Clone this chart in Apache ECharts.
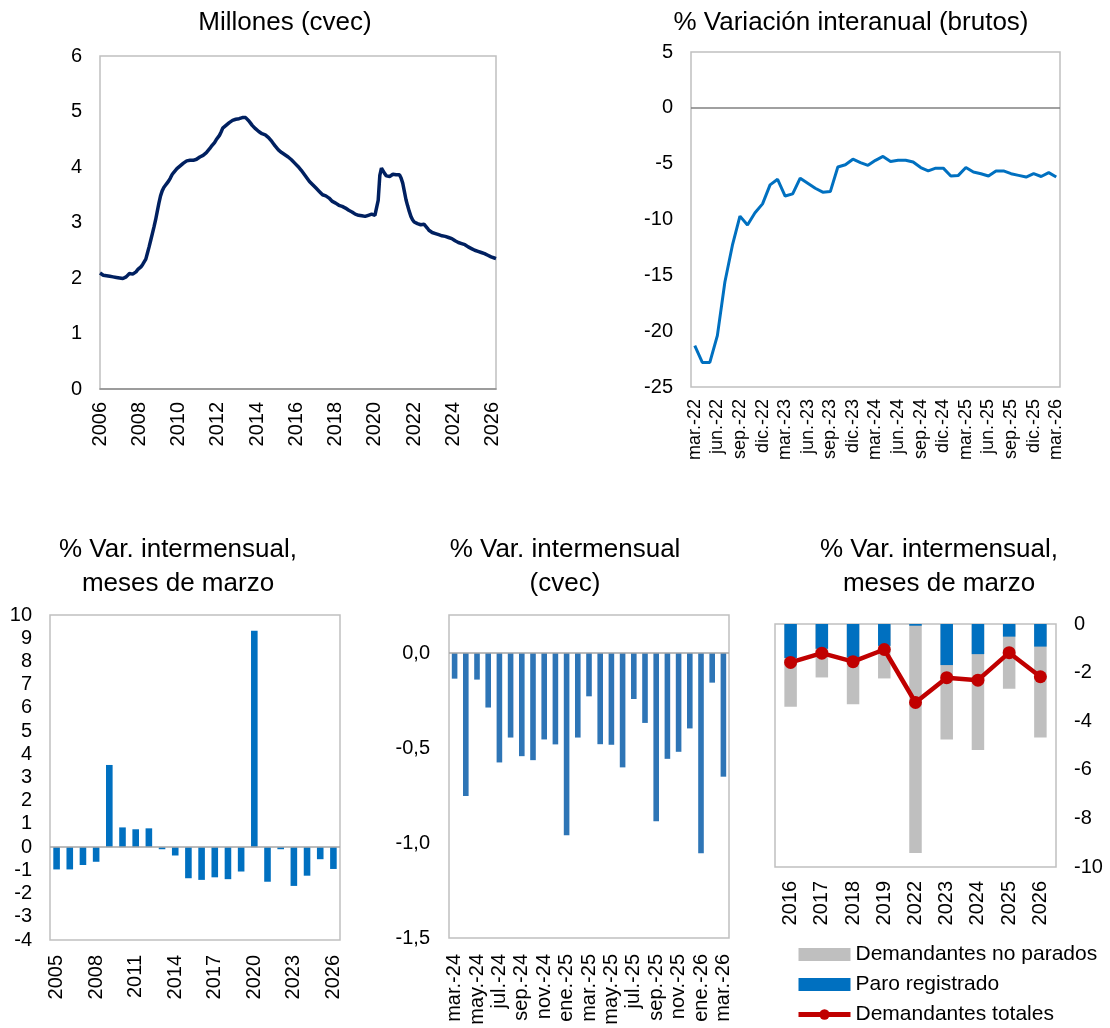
<!DOCTYPE html>
<html>
<head>
<meta charset="utf-8">
<script src="https://cdn.jsdelivr.net/npm/echarts@6/dist/echarts.min.js"></script>
<style>
html,body{margin:0;padding:0;background:#fff;}
#chart{width:1110px;height:1028px;}
</style>
</head>
<body>
<div id="chart"></div>
<script>
// ---------- Panel 1: Millones (cvec), monthly Jan-2006 .. Mar-2026 ----------
const p1StartYear = 2006;
const p1Values = [
  2.09,2.07,2.05,2.04,2.04,2.03,2.03,2.02,2.02,2.01,2.01,2.00, // 2006
  2.00,1.99,1.99,2.00,2.02,2.05,2.08,2.08,2.07,2.08,2.11,2.15, // 2007
  2.17,2.20,2.24,2.29,2.34,2.45,2.56,2.68,2.80,2.92,3.05,3.20, // 2008
  3.35,3.48,3.57,3.63,3.67,3.71,3.75,3.80,3.86,3.90,3.93,3.97, // 2009
  3.98,4.02,4.05,4.07,4.09,4.11,4.10,4.12,4.11,4.12,4.13,4.14, // 2010
  4.16,4.18,4.19,4.21,4.23,4.26,4.28,4.33,4.37,4.40,4.44,4.49, // 2011
  4.52,4.57,4.63,4.70,4.72,4.75,4.77,4.80,4.82,4.84,4.85,4.86, // 2012
  4.87,4.87,4.88,4.89,4.90,4.89,4.86,4.83,4.79,4.75,4.72,4.69, // 2013
  4.66,4.64,4.62,4.60,4.59,4.58,4.56,4.53,4.50,4.46,4.42,4.38, // 2014
  4.35,4.31,4.28,4.26,4.24,4.22,4.20,4.18,4.16,4.13,4.10,4.07, // 2015
  4.04,4.01,3.98,3.94,3.90,3.86,3.82,3.78,3.74,3.71,3.68,3.65, // 2016
  3.62,3.59,3.56,3.53,3.50,3.49,3.48,3.46,3.44,3.41,3.38,3.36, // 2017
  3.35,3.33,3.31,3.30,3.29,3.28,3.26,3.24,3.22,3.20,3.19,3.17, // 2018
  3.15,3.14,3.13,3.13,3.12,3.12,3.11,3.12,3.13,3.14,3.15,3.14, // 2019
  3.13,3.11,3.40,3.85,3.98,3.93,3.88,3.84,3.82,3.83,3.86,3.87, // 2020
  3.87,3.86,3.86,3.86,3.80,3.71,3.56,3.41,3.30,3.20,3.11,3.05, // 2021
  3.01,3.00,2.98,2.96,2.96,2.97,2.97,2.96,2.90,2.86,2.83,2.82, // 2022
  2.81,2.80,2.79,2.78,2.77,2.76,2.76,2.75,2.74,2.73,2.72,2.71, // 2023
  2.69,2.67,2.65,2.64,2.63,2.62,2.61,2.60,2.58,2.56,2.55,2.53, // 2024
  2.52,2.50,2.49,2.48,2.47,2.46,2.45,2.44,2.42,2.41,2.40,2.38, // 2025
  2.37,2.36,2.35                                              // 2026
];
// ---------- Panel 2: % Variación interanual (brutos) ----------
const p2Cats = ['mar.-22','abr.-22','may.-22','jun.-22','jul.-22','ago.-22','sep.-22','oct.-22','nov.-22','dic.-22',
  'ene.-23','feb.-23','mar.-23','abr.-23','may.-23','jun.-23','jul.-23','ago.-23','sep.-23','oct.-23','nov.-23','dic.-23',
  'ene.-24','feb.-24','mar.-24','abr.-24','may.-24','jun.-24','jul.-24','ago.-24','sep.-24','oct.-24','nov.-24','dic.-24',
  'ene.-25','feb.-25','mar.-25','abr.-25','may.-25','jun.-25','jul.-25','ago.-25','sep.-25','oct.-25','nov.-25','dic.-25',
  'ene.-26','feb.-26','mar.-26'];
const p2Values = [-21.3,-22.8,-22.8,-20.4,-15.6,-12.3,-9.7,-10.5,-9.4,-8.6,
  -6.9,-6.4,-7.9,-7.7,-6.3,-6.75,-7.2,-7.55,-7.5,-5.3,-5.1,-4.6,
  -4.9,-5.15,-4.7,-4.35,-4.8,-4.7,-4.7,-4.85,-5.35,-5.65,-5.4,-5.4,
  -6.1,-6.05,-5.35,-5.75,-5.9,-6.1,-5.65,-5.65,-5.9,-6.05,-6.2,-5.9,
  -6.15,-5.8,-6.2];
// ---------- Panel 3: % Var. intermensual, meses de marzo ----------
const p3Cats = ['2005','2006','2007','2008','2009','2010','2011','2012','2013','2014','2015',
  '2016','2017','2018','2019','2020','2021','2022','2023','2024','2025','2026'];
const p3Values = [-0.96,-0.96,-0.77,-0.63,3.54,0.85,0.77,0.81,-0.09,-0.36,-1.34,
  -1.41,-1.30,-1.38,-1.05,9.32,-1.49,-0.09,-1.67,-1.23,-0.52,-0.94];
// ---------- Panel 4: % Var. intermensual (cvec) ----------
const p4Cats = ['mar.-24','abr.-24','may.-24','jun.-24','jul.-24','ago.-24','sep.-24','oct.-24','nov.-24','dic.-24',
  'ene.-25','feb.-25','mar.-25','abr.-25','may.-25','jun.-25','jul.-25','ago.-25','sep.-25','oct.-25','nov.-25','dic.-25',
  'ene.-26','feb.-26','mar.-26'];
const p4Values = [-0.135,-0.753,-0.140,-0.287,-0.576,-0.445,-0.543,-0.564,-0.455,-0.481,
  -0.959,-0.445,-0.228,-0.480,-0.483,-0.602,-0.242,-0.368,-0.886,-0.557,-0.520,-0.397,
  -1.054,-0.156,-0.651];
// ---------- Panel 5: % Var. intermensual, meses de marzo (componentes) ----------
const p5Cats = ['2016','2017','2018','2019','2022','2023','2024','2025','2026'];
const p5NoParados = [-3.41,-2.20,-3.30,-2.24,-9.42,-4.75,-5.19,-2.66,-4.67];
const p5Paro = [-1.40,-1.02,-1.38,-0.90,-0.07,-1.69,-1.24,-0.52,-0.93];
const p5Totales = [-1.58,-1.20,-1.55,-1.05,-3.23,-2.21,-2.31,-1.18,-2.17];

// ---------- build ----------
const p1Cats = [];
for (let i = 0; i < p1Values.length; i++) {
  const y = p1StartYear + Math.floor(i / 12);
  const m = (i % 12) + 1;
  p1Cats.push(y + '-' + (m < 10 ? '0' + m : m));
}

const FONT = '"Liberation Sans", Arial, sans-serif';
const txt = {color: '#000', fontFamily: FONT, fontSize: 20};
const border = {show: true, borderColor: '#C0C0C0', borderWidth: 1.5, backgroundColor: 'transparent'};
const zeroLine = (c) => ({silent: true, symbol: 'none', label: {show: false},
  lineStyle: {color: c || '#808080', width: 1.5, type: 'solid'}, data: [{yAxis: 0}]});

const titleStyle = {color: '#000', fontFamily: FONT, fontSize: 26, fontWeight: 'normal', lineHeight: 34};

const option = {
  animation: false,
  backgroundColor: '#fff',
  textStyle: {fontFamily: FONT},
  title: [
    {text: 'Millones (cvec)', left: 280, top: 1, textAlign: 'center', textStyle: titleStyle},
    {text: '% Variación interanual (brutos)', left: 846, top: 1, textAlign: 'center', textStyle: titleStyle},
    {text: '% Var. intermensual,\nmeses de marzo', left: 173, top: 528, textAlign: 'center', textStyle: titleStyle},
    {text: '% Var. intermensual\n(cvec)', left: 560, top: 528, textAlign: 'center', textStyle: titleStyle},
    {text: '% Var. intermensual,\nmeses de marzo', left: 934, top: 528, textAlign: 'center', textStyle: titleStyle}
  ],
  legend: {
    orient: 'vertical', left: 796, top: 944, padding: 0, itemWidth: 52, itemHeight: 13, itemGap: 9,
    textStyle: {color: '#000', fontFamily: FONT, fontSize: 21},
    data: [
      {name: 'Demandantes no parados', icon: 'rect'},
      {name: 'Paro registrado', icon: 'rect'},
      {name: 'Demandantes totales', lineStyle: {width: 5, color: '#C00000'}}
    ]
  },
  grid: [
    Object.assign({left: 100, top: 56, width: 396, height: 333}, border),
    Object.assign({left: 691, top: 52, width: 369, height: 335}, border),
    Object.assign({left: 50, top: 615, width: 290, height: 325}, border),
    Object.assign({left: 449, top: 615, width: 280, height: 323}, border),
    Object.assign({left: 775, top: 624, width: 281, height: 243}, border)
  ],
  xAxis: [
    {gridIndex: 0, type: 'category', data: p1Cats, boundaryGap: false,
      axisLine: {show: true, onZero: false, lineStyle: {color: '#8C8C8C', width: 1.5}}, axisTick: {show: false},
      axisLabel: Object.assign({rotate: 90, margin: 13, interval: (i) => i % 24 === 0,
        formatter: (v) => v.slice(0, 4)}, txt)},
    {gridIndex: 1, type: 'category', data: p2Cats, boundaryGap: true,
      axisLine: {show: false, onZero: false}, axisTick: {show: false},
      axisLabel: Object.assign({}, txt, {rotate: 90, margin: 12, interval: 2, fontSize: 18})},
    {gridIndex: 2, type: 'category', data: p3Cats, boundaryGap: true,
      axisLine: {show: false, onZero: false}, axisTick: {show: false},
      axisLabel: Object.assign({rotate: 90, margin: 15, interval: 2}, txt)},
    {gridIndex: 3, type: 'category', data: p4Cats, boundaryGap: true,
      axisLine: {show: false, onZero: false}, axisTick: {show: false},
      axisLabel: Object.assign({rotate: 90, margin: 16, interval: 1}, txt)},
    {gridIndex: 4, type: 'category', data: p5Cats, boundaryGap: true,
      axisLine: {show: false, onZero: false}, axisTick: {show: false},
      axisLabel: Object.assign({rotate: 90, margin: 14, interval: 0}, txt)}
  ],
  yAxis: [
    {gridIndex: 0, type: 'value', min: 0, max: 6, interval: 1, splitLine: {show: false},
      axisLine: {show: false}, axisTick: {show: false}, axisLabel: Object.assign({margin: 18}, txt)},
    {gridIndex: 1, type: 'value', min: -25, max: 5, interval: 5, splitLine: {show: false},
      axisLine: {show: false}, axisTick: {show: false}, axisLabel: Object.assign({margin: 18}, txt)},
    {gridIndex: 2, type: 'value', min: -4, max: 10, interval: 1, splitLine: {show: false},
      axisLine: {show: false}, axisTick: {show: false}, axisLabel: Object.assign({margin: 18}, txt)},
    {gridIndex: 3, type: 'value', min: -1.5, max: 0.2, interval: 0.5, splitLine: {show: false},
      axisLine: {show: false}, axisTick: {show: false},
      axisLabel: Object.assign({margin: 19, showMaxLabel: false,
        formatter: (v) => v.toFixed(1).replace('.', ',')}, txt)},
    {gridIndex: 4, type: 'value', position: 'right', min: -10, max: 0, interval: 2, splitLine: {show: false},
      axisLine: {show: false}, axisTick: {show: false}, axisLabel: Object.assign({margin: 18}, txt)}
  ],
  series: [
    {type: 'line', xAxisIndex: 0, yAxisIndex: 0, data: p1Values, showSymbol: false, symbol: 'none',
      lineStyle: {color: '#002060', width: 3.5}, z: 3},
    {type: 'line', xAxisIndex: 1, yAxisIndex: 1, data: p2Values, showSymbol: false, symbol: 'none',
      lineStyle: {color: '#0070C0', width: 3}, markLine: zeroLine('#808080'), z: 3},
    {type: 'bar', xAxisIndex: 2, yAxisIndex: 2, data: p3Values, barWidth: '50%',
      itemStyle: {color: '#0070C0'}, markLine: zeroLine('#A6A6A6')},
    {type: 'bar', xAxisIndex: 3, yAxisIndex: 3, data: p4Values, barWidth: '50%',
      itemStyle: {color: '#2E75B6'}, markLine: zeroLine('#A6A6A6')},
    {name: 'Demandantes no parados', type: 'bar', xAxisIndex: 4, yAxisIndex: 4, data: p5NoParados,
      barWidth: '40%', barGap: '-100%', itemStyle: {color: '#BFBFBF'}},
    {name: 'Paro registrado', type: 'bar', xAxisIndex: 4, yAxisIndex: 4, data: p5Paro,
      barWidth: '40%', barGap: '-100%', itemStyle: {color: '#0070C0'}},
    {name: 'Demandantes totales', type: 'line', xAxisIndex: 4, yAxisIndex: 4, data: p5Totales,
      symbol: 'circle', symbolSize: 13, lineStyle: {color: '#C00000', width: 4.5},
      itemStyle: {color: '#C00000'}, z: 5}
  ]
};

const chart = echarts.init(document.getElementById('chart'), null, {renderer: 'canvas'});
chart.setOption(option);
</script>
</body>
</html>
